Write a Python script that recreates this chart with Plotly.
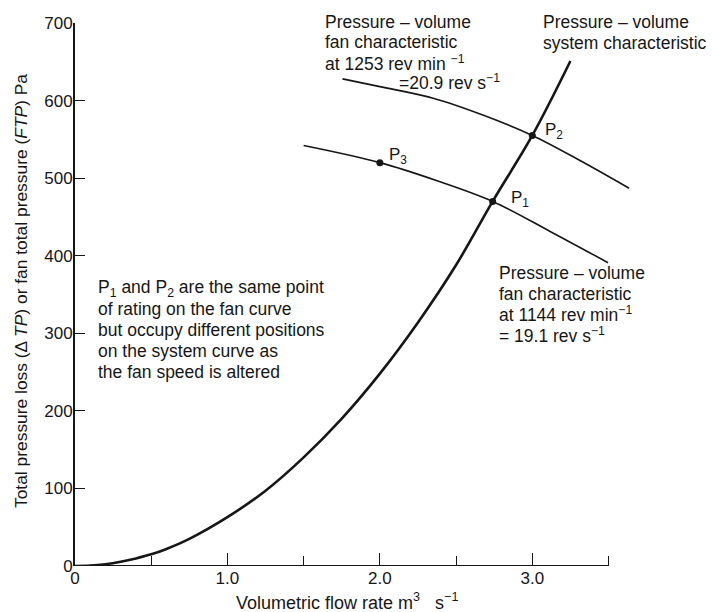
import plotly.graph_objects as go

# System characteristic (pressure loss vs. volumetric flow)
sys_flow = [0.0, 0.1, 0.2, 0.3, 0.4, 0.5, 0.6, 0.75, 1.0, 1.25, 1.5, 1.75, 2.0, 2.25, 2.5, 2.74, 3.0, 3.25]
sys_pressure = [0, 0.5, 2.3, 5.5, 9.8, 15, 22, 35, 63, 97, 140, 190, 248, 314, 388, 470, 555, 651]

# Fan characteristic at 1253 rev/min (20.9 rev/s)
fan_hi_flow = [1.755, 2.0, 2.35, 2.68, 3.0, 3.31, 3.635]
fan_hi_pressure = [628, 618, 603, 581, 555, 523, 487]

# Fan characteristic at 1144 rev/min (19.1 rev/s)
fan_lo_flow = [1.5, 2.0, 2.37, 2.74, 3.12, 3.497]
fan_lo_pressure = [542, 520, 497, 470, 431, 391]

# Marked operating points
pt_names = ["P<sub>1</sub>", "P<sub>2</sub>", "P<sub>3</sub>"]
pt_flow = [2.74, 3.0, 2.0]
pt_pressure = [470, 555, 520]

x_tickvals = [0, 1, 2, 3]
x_ticktext = ["0", "1.0", "2.0", "3.0"]
x_minor = [0.5, 1.5, 2.5, 3.5]
y_tickvals = [0, 100, 200, 300, 400, 500, 600, 700]

FONT = "Liberation Sans, Arial, Helvetica, sans-serif"
INK = "#161616"

# plot-area geometry in pixels (used to place free text in paper units)
L, R, T, B = 75, 74, 23, 46
W, H = 713, 612
PW, PH = W - L - R, H - T - B

# label offsets (px) from each marked point: right, up
label_dx = [16, 11, 7]
label_dy = [2, 4, 7]


def px_x(px):
    return (px - L) / PW


def px_y(py):
    return (H - B - py) / PH


fig = go.Figure()
fig.add_trace(go.Scatter(x=sys_flow, y=sys_pressure, mode="lines",
                         line=dict(color=INK, width=2.6, shape="spline"), hoverinfo="skip"))
fig.add_trace(go.Scatter(x=fan_hi_flow, y=fan_hi_pressure, mode="lines",
                         line=dict(color=INK, width=1.6, shape="spline"), hoverinfo="skip"))
fig.add_trace(go.Scatter(x=fan_lo_flow, y=fan_lo_pressure, mode="lines",
                         line=dict(color=INK, width=1.6, shape="spline"), hoverinfo="skip"))
fig.add_trace(go.Scatter(x=pt_flow, y=pt_pressure, mode="markers",
                         marker=dict(color=INK, size=7), hoverinfo="skip", cliponaxis=False))

# x-axis baseline, stopping at 3.5
fig.add_shape(type="line", xref="x", yref="y", x0=0, x1=3.5, y0=0, y1=0,
              line=dict(color=INK, width=2))


def text_block(lines, px, py0, step=20.8, size=17.5):
    for i, line in enumerate(lines):
        fig.add_annotation(text=line, x=px_x(px), y=px_y(py0 + i * step),
                           xref="paper", yref="paper", showarrow=False,
                           xanchor="left", yanchor="middle", align="left",
                           font=dict(family=FONT, size=size, color=INK))


text_block(["Pressure – volume", "fan characteristic", "at 1253 rev min <sup>−1</sup>"], 323, 21.7)
text_block(["=20.9 rev s<sup>−1</sup>"], 397, 82)
text_block(["Pressure – volume", "system characteristic"], 541, 21.7, step=21)
text_block(["P<sub>1</sub> and P<sub>2</sub> are the same point",
            "of rating on the fan curve",
            "but occupy different positions",
            "on the system curve as",
            "the fan speed is altered"], 96, 288, step=20.9)
text_block(["Pressure – volume", "fan characteristic",
            "at 1144 rev min<sup>−1</sup>", "= 19.1 rev s<sup>−1</sup>"], 497, 272.7, step=20.8)

# point labels
for name, x, y, dx, dy in zip(pt_names, pt_flow, pt_pressure, label_dx, label_dy):
    fig.add_annotation(text=name, x=x, y=y, xref="x", yref="y", showarrow=False,
                       xanchor="left", yanchor="middle", xshift=dx, yshift=dy,
                       font=dict(family=FONT, size=17, color=INK))

# axis titles
fig.add_annotation(text="Volumetric flow rate m<sup>3</sup>   s<sup>−1</sup>",
                   x=px_x(347), y=px_y(601), xref="paper", yref="paper",
                   showarrow=False, xanchor="center", yanchor="middle",
                   font=dict(family=FONT, size=18, color=INK))
fig.add_annotation(text="Total pressure loss (Δ <i>TP</i>) or fan total pressure (<i>FTP</i>) Pa",
                   x=px_x(21), y=px_y(291), xref="paper", yref="paper",
                   showarrow=False, xanchor="center", yanchor="middle", textangle=-90,
                   font=dict(family=FONT, size=17.4, color=INK))

fig.update_layout(
    width=W, height=H,
    margin=dict(l=L, r=R, t=T, b=B),
    paper_bgcolor="white", plot_bgcolor="white",
    showlegend=False,
    font=dict(family=FONT, size=17, color=INK),
    xaxis=dict(range=[0, 3.7], showline=False, showgrid=False, zeroline=False,
               tickmode="array", tickvals=x_tickvals, ticktext=x_ticktext,
               ticks="inside", ticklen=13, tickwidth=1.3, tickcolor=INK,
               minor=dict(tickvals=x_minor, ticks="inside", ticklen=10,
                          tickwidth=1.3, tickcolor=INK, showgrid=False),
               tickfont=dict(family=FONT, size=17, color=INK)),
    yaxis=dict(range=[0, 700], showline=True, linewidth=2, linecolor=INK,
               showgrid=False, zeroline=False,
               tickmode="array", tickvals=y_tickvals,
               ticks="inside", ticklen=10, tickwidth=1.3, tickcolor=INK,
               ticklabelstandoff=-3,
               tickfont=dict(family=FONT, size=17, color=INK)),
)

fig.write_html("out.html")
